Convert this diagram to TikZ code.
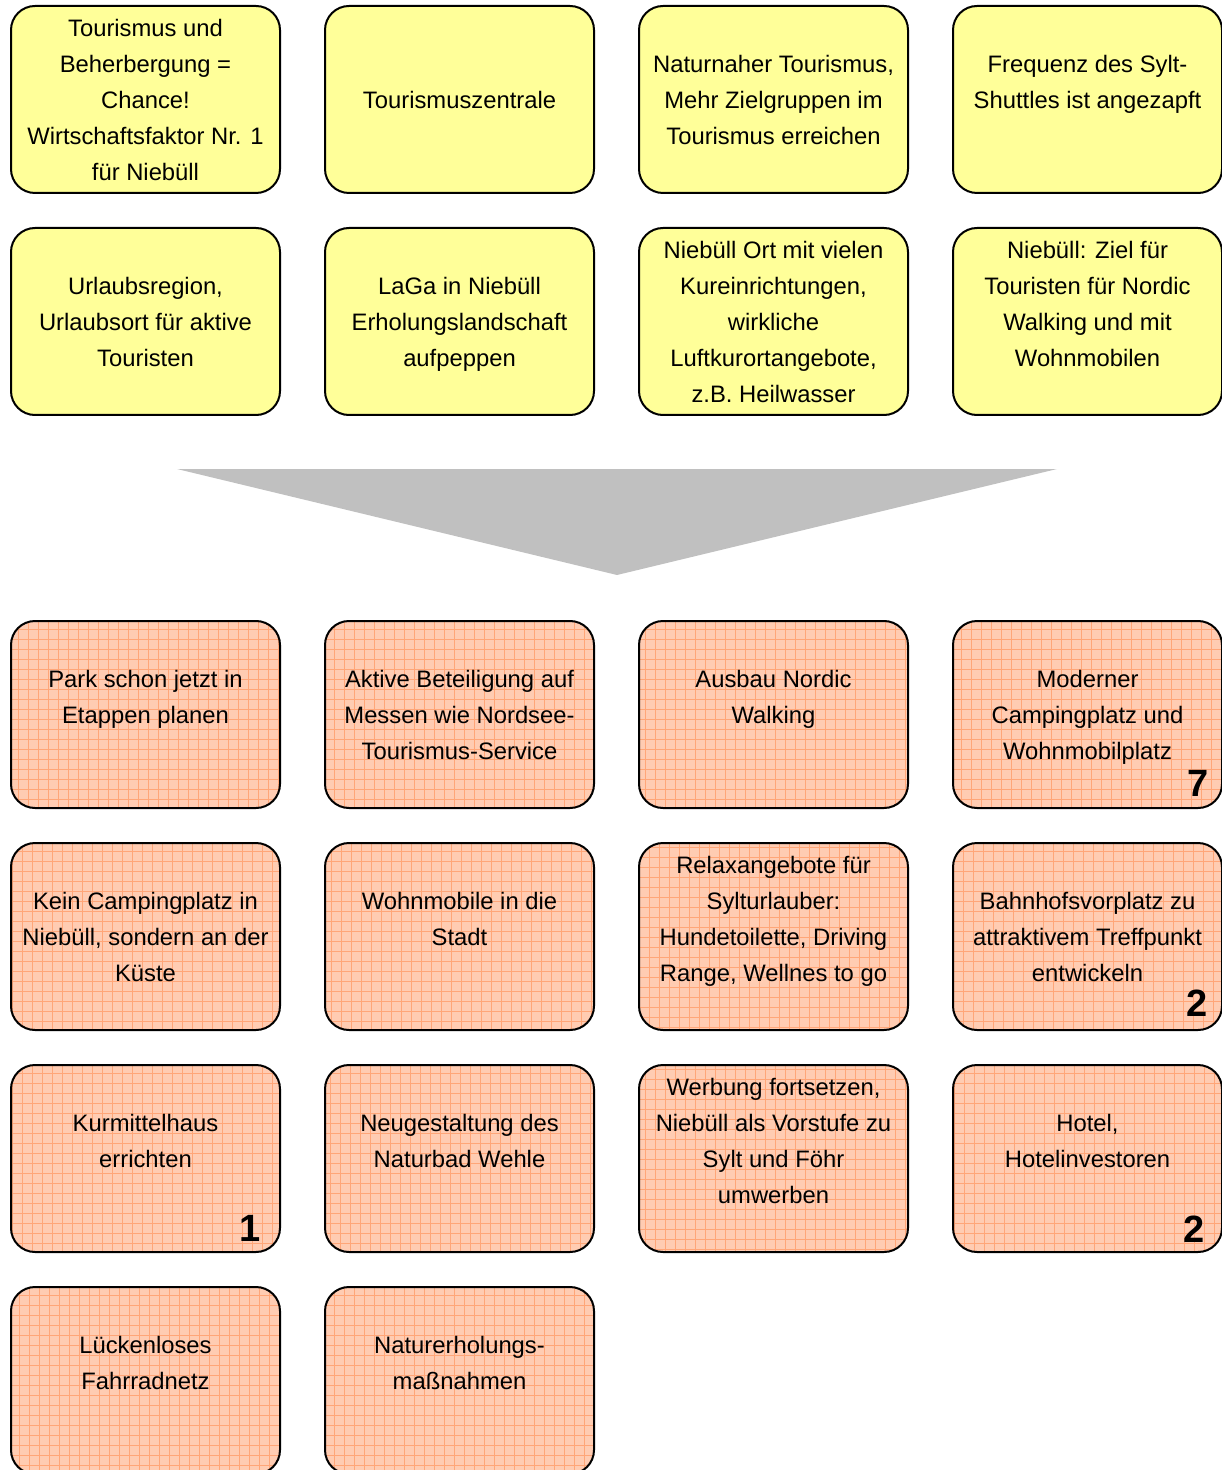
\documentclass[tikz,border=0pt]{standalone}
\usepackage{fontspec}
\setmainfont{Liberation Sans}
\definecolor{ideegelb}{RGB}{255,255,153}
\definecolor{massnahmerot}{RGB}{255,204,178}
\definecolor{gitterrot}{RGB}{255,166,120}
\definecolor{pfeilgrau}{RGB}{192,192,192}

\begin{document}
\begin{tikzpicture}[x=0.5pt, y=0.5pt, node distance=157pt,
    box/.style={rectangle, rounded corners=12pt, draw, line width=1pt, minimum width=134.5pt, minimum height=93.5pt, inner sep=0pt, align=center, text depth=-2.5pt, font=\fontsize{11.9pt}{18pt}\selectfont},
    idee/.style={box, fill=ideegelb},
    gitter/.style={draw=gitterrot, line width=0.5pt, step=5pt},
    massnahme/.style={box, fill=massnahmerot, path picture={\draw[gitter] (path picture bounding box.south west) grid (path picture bounding box.north east);}},
    nummer/.style={inner sep=0pt, font=\bfseries\fontsize{19pt}{19pt}\selectfont}]

    \useasboundingbox (0,0) rectangle (1221,-1470);

    \node[idee] (a1) at (145.5,-99.5) {Tourismus und\\Beherbergung =\\Chance!\\Wirtschaftsfaktor Nr. 1\\für Niebüll};
    \node[idee, right of=a1] (a2) {Tourismuszentrale};
    \node[idee, right of=a2] (a3) {Naturnaher Tourismus,\\Mehr Zielgruppen im\\Tourismus erreichen};
    \node[idee, right of=a3] (a4) {Frequenz des Sylt-\\Shuttles ist angezapft\\ \mbox{}};

    \node[idee, below of=a1, node distance=111pt] (b1) {Urlaubsregion,\\Urlaubsort für aktive\\Touristen};
    \node[idee, right of=b1] (b2) {LaGa in Niebüll\\Erholungslandschaft\\aufpeppen};
    \node[idee, right of=b2] (b3) {Niebüll Ort mit vielen\\Kureinrichtungen,\\wirkliche\\Luftkurortangebote,\\z.B. Heilwasser};
    \node[idee, right of=b3] (b4) {Niebüll: Ziel für\\Touristen für Nordic\\Walking und mit\\Wohnmobilen\\ \mbox{}};

    \fill[pfeilgrau] (177,-469) -- (1057,-469) -- (617,-575) -- cycle;

    \node[massnahme, below of=b1, node distance=196.5pt] (c1) {Park schon jetzt in\\Etappen planen\\ \mbox{}};
    \node[massnahme, right of=c1] (c2) {Aktive Beteiligung auf\\Messen wie Nordsee-\\Tourismus-Service};
    \node[massnahme, right of=c2] (c3) {Ausbau Nordic\\Walking\\ \mbox{}};
    \node[massnahme, right of=c3] (c4) {Moderner\\Campingplatz und\\Wohnmobilplatz};

    \node[massnahme, below of=c1, node distance=111pt] (d1) {Kein Campingplatz in\\Niebüll, sondern an der\\Küste};
    \node[massnahme, right of=d1] (d2) {Wohnmobile in die\\Stadt\\ \mbox{}};
    \node[massnahme, right of=d2] (d3) {Relaxangebote für\\Sylturlauber:\\Hundetoilette, Driving\\Range, Wellnes to go\\ \mbox{}};
    \node[massnahme, right of=d3] (d4) {Bahnhofsvorplatz zu\\attraktivem Treffpunkt\\entwickeln};

    \node[massnahme, below of=d1, node distance=111pt] (e1) {Kurmittelhaus\\errichten\\ \mbox{}};
    \node[massnahme, right of=e1] (e2) {Neugestaltung des\\Naturbad Wehle\\ \mbox{}};
    \node[massnahme, right of=e2] (e3) {Werbung fortsetzen,\\Niebüll als Vorstufe zu\\Sylt und Föhr\\umwerben\\ \mbox{}};
    \node[massnahme, right of=e3] (e4) {Hotel,\\Hotelinvestoren\\ \mbox{}};

    \node[massnahme, below of=e1, node distance=111pt] (f1) {Lückenloses\\Fahrradnetz\\ \mbox{}};
    \node[massnahme, right of=f1] (f2) {Naturerholungs-\\maßnahmen\\ \mbox{}};

    \node[nummer] (c4n) at ([shift={(-12.5pt,13pt)}]c4.south east) {7};
    \node[nummer] (d4n) at ([shift={(-13pt,14pt)}]d4.south east) {2};
    \node[nummer] (e1n) at ([shift={(-15.5pt,12.5pt)}]e1.south east) {1};
    \node[nummer] (e4n) at ([shift={(-14.5pt,12pt)}]e4.south east) {2};
  \end{tikzpicture}
\end{document}
